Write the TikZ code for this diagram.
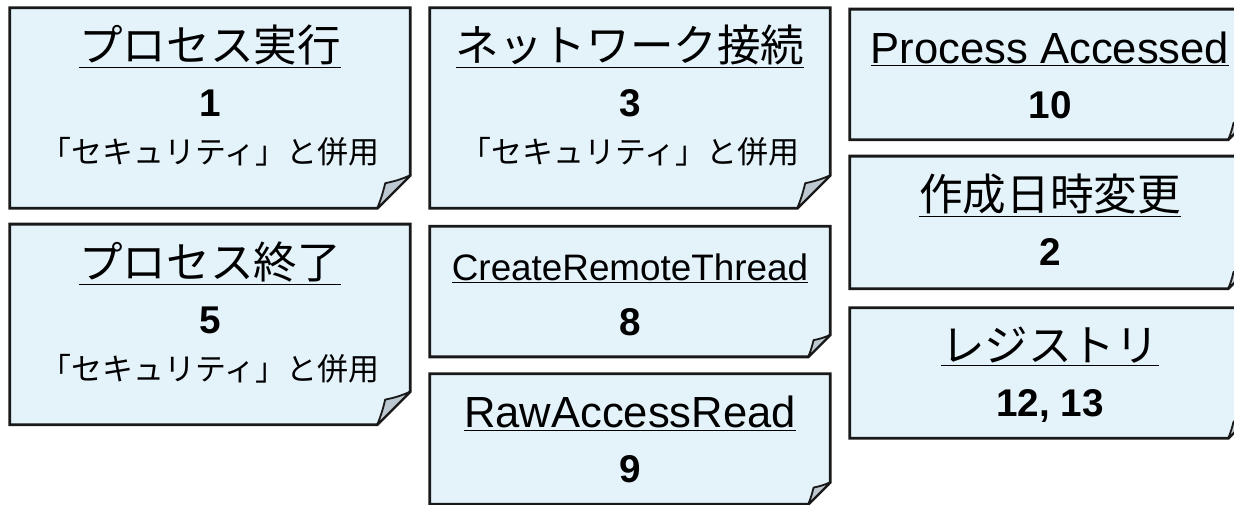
\documentclass[tikz,border=0pt]{standalone}
\usepackage{fontspec}
\setmainfont{Liberation Sans}
\newfontfamily\jpfont{Noto Sans CJK JP}
\usepackage{tikz}
\usetikzlibrary{calc, positioning}
\usepackage{xcolor}

\definecolor{notefill}{RGB}{228,242,250}
\definecolor{noteline}{RGB}{25,25,25}
\definecolor{curlgrey}{RGB}{190,200,208}

% outline of a note with its curled corner
\newcommand{\foldnote}[2]{%
  \filldraw[fill=notefill, draw=noteline, line width=2pt]
    (#1.north west) -- (#1.north east) -- ([yshift=#2]#1.south east)
    -- ([xshift=-#2]#1.south east) -- (#1.south west) -- cycle;
  \filldraw[fill=curlgrey, draw=noteline, line width=1.3pt, line join=round]
    ([yshift=#2]#1.south east) to[bend left=6] ([xshift=-0.76*#2, yshift=0.76*#2]#1.south east)
    to[bend left=4] ([xshift=-#2]#1.south east) -- cycle;
}

\begin{document}
\begin{tikzpicture}[
                every node/.style={inner sep=0pt},
                notebox/.style={minimum width=10cm},
                big/.style={notebox, minimum height=5cm},
                small/.style={notebox, minimum height=3.25cm},
                ttl/.style={anchor=base, font=\fontsize{31}{37}\selectfont},
                num/.style={anchor=base, font=\fontsize{27.5}{33}\selectfont\bfseries},
                memo/.style={anchor=base, font=\fontsize{22}{26}\selectfont\jpfont}
            ]
                \clip (0, 0) rectangle (30.85, 12.6);
                \node[big] (pexec) at (5.25, 9.9) {};
                \node[big] (pterm) at (5.25, 4.49) {};
                \node[big] (netcon) at (15.75, 9.9) {};
                \node[small] (crthread) at (15.75, 5.31) {};
                \node[small] (rawread) at (15.75, 1.625) {};
                \node[small] (paccess) at (26.25, 10.74) {};
                \node[notebox, minimum height=3.3cm] (ctime) at (26.25, 7.04) {};
                \node[small] (reg) at (26.25, 3.275) {};
                \foreach \n/\s in {pexec/0.825cm, pterm/0.825cm, netcon/0.825cm,
                    crthread/0.55cm, rawread/0.55cm, paccess/0.55cm, ctime/0.55cm, reg/0.55cm}
                    \foldnote{\n}{\s};
                % titles
                \node[ttl] (pexec-t) at ([yshift=-1.35cm]pexec.north) {\underline{\jpfont プロセス実行}};
                \node[ttl] (pterm-t) at ([yshift=-1.35cm]pterm.north) {\underline{\jpfont プロセス終了}};
                \node[ttl] (netcon-t) at ([yshift=-1.35cm]netcon.north) {\underline{\jpfont ネットワーク接続}};
                \node[ttl, font=\fontsize{26.2}{32}\selectfont] (crthread-t) at ([yshift=-1.35cm]crthread.north) {\underline{CreateRemoteThread}};
                \node[ttl] (rawread-t) at ([yshift=-1.35cm]rawread.north) {\underline{RawAccessRead}};
                \node[ttl] (paccess-t) at ([yshift=-1.35cm]paccess.north) {\underline{Process Accessed}};
                \node[ttl] (ctime-t) at ([yshift=-1.35cm]ctime.north) {\underline{\jpfont 作成日時変更}};
                \node[ttl] (reg-t) at ([yshift=-1.35cm]reg.north) {\underline{\jpfont レジストリ}};
                % event ids
                \node[num] (pexec-n) at ([yshift=-2.725cm]pexec.north) {1};
                \node[num] (pterm-n) at ([yshift=-2.725cm]pterm.north) {5};
                \node[num] (netcon-n) at ([yshift=-2.725cm]netcon.north) {3};
                \node[num] (crthread-n) at ([yshift=-2.725cm]crthread.north) {8};
                \node[num] (rawread-n) at ([yshift=-2.725cm]rawread.north) {9};
                \node[num] (paccess-n) at ([yshift=-2.725cm]paccess.north) {10};
                \node[num] (ctime-n) at ([yshift=-2.725cm]ctime.north) {2};
                \node[num] (reg-n) at ([yshift=-2.725cm]reg.north) {12, 13};
                % notes
                \node[memo] (pexec-m) at ([yshift=-3.9cm]pexec.north) {「セキュリティ」と併用};
                \node[memo] (pterm-m) at ([yshift=-3.9cm]pterm.north) {「セキュリティ」と併用};
                \node[memo] (netcon-m) at ([yshift=-3.9cm]netcon.north) {「セキュリティ」と併用};
            \end{tikzpicture}
\end{document}
